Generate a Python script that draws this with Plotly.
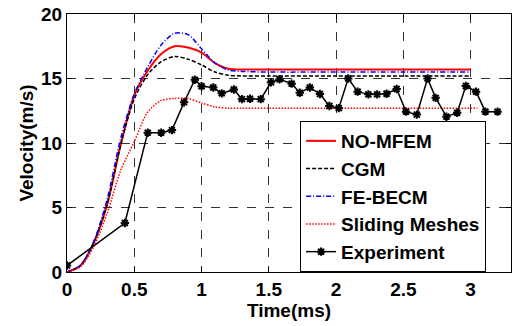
import plotly.graph_objects as go

t_sim = [0, 0.1, 0.2, 0.3, 0.4, 0.5, 0.6, 0.7, 0.8, 0.9, 1.0, 1.1, 1.2, 1.3, 1.5, 2.0, 2.5, 3.0]
no_mfem = [0, 0.5, 2.3, 5.3, 9.9, 13.7, 15.6, 16.9, 17.5, 17.4, 17.0, 16.2, 15.75, 15.7, 15.7, 15.7, 15.7, 15.7]
cgm = [0, 0.5, 2.3, 5.3, 9.9, 13.4, 15.3, 16.3, 16.7, 16.5, 16.05, 15.5, 15.25, 15.2, 15.2, 15.2, 15.2, 15.2]
fe_becm = [0, 0.5, 2.4, 5.7, 10.4, 13.8, 15.9, 17.6, 18.5, 18.4, 17.3, 16.2, 15.65, 15.55, 15.5, 15.5, 15.5, 15.5]
t_slide = [0, 0.1, 0.2, 0.3, 0.4, 0.5, 0.6, 0.7, 0.8, 0.9, 1.0, 1.1, 1.2, 1.3, 1.5, 2.0, 2.5, 3.05]
sliding = [0, 0.4, 2.0, 4.6, 7.9, 10.1, 12.4, 13.3, 13.45, 13.45, 13.1, 12.8, 12.7, 12.7, 12.7, 12.7, 12.7, 12.7]

t_exp = [0, 0.43, 0.6, 0.7, 0.78, 0.87, 0.95, 1.0, 1.087, 1.15, 1.24, 1.30, 1.36, 1.44, 1.516,
         1.58, 1.67, 1.73, 1.805, 1.88, 1.95, 2.02, 2.09, 2.16, 2.24, 2.305, 2.375, 2.45, 2.52,
         2.60, 2.68, 2.74, 2.82, 2.90, 2.964, 3.04, 3.11, 3.20]
v_exp = [0.5, 3.8, 10.8, 10.8, 11.0, 13.15, 14.9, 14.4, 14.3, 13.85, 14.15, 13.4, 13.43, 13.4, 14.7,
         14.94, 14.6, 13.9, 14.3, 13.8, 12.87, 12.7, 15.0, 13.98, 13.77, 13.77, 13.82, 14.19, 12.43,
         12.2, 15.0, 13.5, 12.04, 12.35, 14.42, 13.98, 12.43, 12.43]

x_ticks = [0, 0.5, 1, 1.5, 2, 2.5, 3]
x_labels = ["0", "0.5", "1", "1.5", "2", "2.5", "3"]
y_ticks = [0, 5, 10, 15, 20]
y_labels = ["0", "5", "10", "15", "20"]

FONT = "Liberation Sans"
fig = go.Figure()
fig.add_trace(go.Scatter(x=t_sim, y=no_mfem, name="NO-MFEM", mode="lines",
                         line=dict(color="#ff0000", width=2, shape="spline", smoothing=0.8)))
fig.add_trace(go.Scatter(x=t_sim, y=cgm, name="CGM", mode="lines",
                         line=dict(color="#000000", width=1.5, dash="4px,2px", shape="spline", smoothing=0.8)))
fig.add_trace(go.Scatter(x=t_sim, y=fe_becm, name="FE-BECM", mode="lines",
                         line=dict(color="#0000ff", width=1.5, dash="5px,2px,1px,2px", shape="spline", smoothing=0.8)))
fig.add_trace(go.Scatter(x=t_slide, y=sliding, name="Sliding Meshes", mode="lines",
                         line=dict(color="#ff0000", width=1.5, dash="1.5px,1.5px", shape="spline", smoothing=0.8)))
fig.add_trace(go.Scatter(x=t_exp, y=v_exp, name="Experiment", mode="lines+markers",
                         line=dict(color="#000000", width=1.5),
                         marker=dict(symbol="asterisk-open", size=7, color="#000000",
                                     line=dict(color="#000000", width=2))))

axis_common = dict(showline=True, linecolor="black", linewidth=1, mirror="allticks",
                   ticks="inside", ticklen=5, tickcolor="black",
                   showgrid=True, gridcolor="#333333", griddash="dash", gridwidth=1,
                   zeroline=False, automargin=False,
                   tickfont=dict(family=FONT, size=19, color="black", weight="bold"))

fig.update_xaxes(range=[0, 3.3], tickvals=x_ticks, ticktext=x_labels,
                 title=dict(text="<b>Time(ms)</b>", font=dict(family=FONT, size=19, color="black"), standoff=2),
                 **axis_common)
fig.update_yaxes(range=[0, 20], tickvals=y_ticks, ticktext=y_labels,
                 title=dict(text="<b>Velocity(m/s)</b>", font=dict(family=FONT, size=19, color="black"), standoff=2),
                 **axis_common)

fig.update_layout(
    width=513, height=326,
    margin=dict(l=67, r=2, t=14, b=54),
    plot_bgcolor="white", paper_bgcolor="white",
    legend=dict(x=0.525, y=0.0, xanchor="left", yanchor="bottom",
                bgcolor="white", bordercolor="black", borderwidth=1,
                font=dict(family=FONT, size=19, color="black", weight="bold"),
                itemwidth=30, tracegroupgap=0),
)

fig.write_html("out.html", config={"displayModeBar": False},
               post_script="document.body.style.margin='0';document.body.style.padding='0';")
